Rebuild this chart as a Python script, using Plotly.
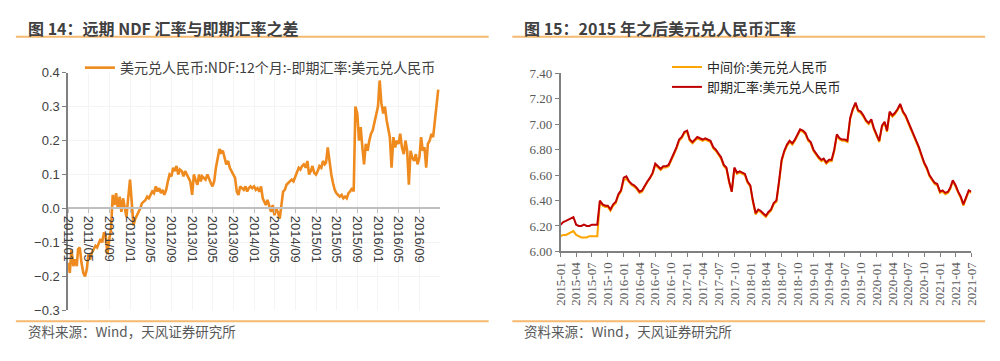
import plotly.graph_objects as go

# ---------------- data: left chart (NDF 12M - spot, USD/CNY) ----------------
ndf_dates = [f"{y}-{m:02d}-{d:02d}" for y in range(2011, 2017) for m in range(1, 13) for d in (1, 11, 21)]
ndf_spread = [
    # 2011
    -0.16, -0.19, -0.12, -0.17, -0.15, -0.17, -0.12, -0.115, -0.16, -0.19, -0.2, -0.18,
    -0.135, -0.15, -0.13, -0.12, -0.11, -0.115, -0.1, -0.09, -0.1, -0.07, -0.08, -0.135,
    -0.09, -0.06, 0.04, 0.01, 0.045, 0.0, 0.035, -0.01, 0.03, 0.0, -0.025, 0.03,
    # 2012
    0.085, 0.02, -0.05, -0.03, -0.02, -0.01, 0.0, 0.015, 0.02, 0.025, 0.035, 0.03,
    0.04, 0.05, 0.045, 0.065, 0.05, 0.06, 0.045, 0.055, 0.04, 0.055, 0.08, 0.1,
    0.095, 0.12, 0.11, 0.125, 0.1, 0.115, 0.11, 0.095, 0.11, 0.1, 0.09, 0.08,
    # 2013
    0.04, 0.1, 0.085, 0.07, 0.1, 0.08, 0.095, 0.09, 0.085, 0.1, 0.085, 0.075,
    0.065, 0.08, 0.12, 0.15, 0.175, 0.165, 0.17, 0.15, 0.13, 0.14, 0.12, 0.11,
    0.1, 0.09, 0.05, 0.04, 0.065, 0.06, 0.055, 0.065, 0.05, 0.06, 0.065, 0.06,
    # 2014
    0.065, 0.055, 0.06, 0.05, 0.065, 0.03, 0.02, 0.01, 0.025, 0.005, -0.01, 0.01,
    -0.02, 0.0, -0.01, -0.03, 0.02, 0.05, 0.055, 0.07, 0.075, 0.08, 0.085, 0.08,
    0.095, 0.11, 0.12, 0.115, 0.125, 0.13, 0.12, 0.14, 0.1, 0.11, 0.125, 0.105,
    # 2015
    0.1, 0.11, 0.125, 0.12, 0.14, 0.13, 0.135, 0.18, 0.14, 0.1, 0.075, 0.055,
    0.045, 0.04, 0.035, 0.04, 0.03, 0.035, 0.03, 0.045, 0.05, 0.06, 0.05, 0.3,
    0.28, 0.2, 0.24, 0.18, 0.13, 0.19, 0.17, 0.2, 0.22, 0.23, 0.25, 0.27,
    # 2016
    0.3, 0.377, 0.31, 0.28, 0.3, 0.26, 0.23, 0.21, 0.12, 0.21, 0.18, 0.2,
    0.19, 0.22, 0.18, 0.16, 0.2, 0.17, 0.07, 0.17, 0.15, 0.14, 0.16, 0.13,
    0.15, 0.21, 0.17, 0.18, 0.12, 0.19, 0.2, 0.22, 0.21, 0.26, 0.3, 0.35,
]

# ---------------- data: right chart (USD/CNY since 2015) ----------------
fx_dates = [f"{y}-{m:02d}-{d:02d}" for y in range(2015, 2022) for m in range(1, 13) for d in (1, 16)
            if (y, m) < (2021, 7)] + ["2021-07-01"]
central_parity = [
    # 2015
    6.12, 6.13, 6.13, 6.14, 6.15, 6.16, 6.13, 6.12, 6.11, 6.11, 6.11, 6.12,
    6.12, 6.12, 6.12, 6.39, 6.36, 6.35, 6.35, 6.32, 6.36, 6.38, 6.44, 6.47,
    # 2016
    6.56, 6.57, 6.54, 6.52, 6.51, 6.49, 6.46, 6.47, 6.51, 6.54, 6.57, 6.61,
    6.68, 6.66, 6.64, 6.66, 6.66, 6.67, 6.71, 6.76, 6.81, 6.87, 6.89, 6.93,
    # 2017
    6.94, 6.87, 6.85, 6.87, 6.89, 6.88, 6.87, 6.88, 6.87, 6.86, 6.81, 6.79,
    6.76, 6.73, 6.67, 6.65, 6.54, 6.47, 6.65, 6.61, 6.62, 6.61, 6.60, 6.54,
    # 2018
    6.51, 6.39, 6.29, 6.32, 6.31, 6.29, 6.27, 6.30, 6.32, 6.37, 6.39, 6.54,
    6.71, 6.78, 6.83, 6.86, 6.84, 6.87, 6.91, 6.95, 6.94, 6.92, 6.87, 6.85,
    # 2019
    6.79, 6.76, 6.73, 6.71, 6.72, 6.69, 6.71, 6.71, 6.79, 6.91, 6.88, 6.87,
    6.87, 6.86, 7.04, 7.11, 7.16, 7.10, 7.09, 7.06, 7.02, 7.00, 7.03, 6.96,
    # 2020
    6.91, 6.86, 6.98, 7.01, 6.94, 7.09, 7.06, 7.08, 7.11, 7.15, 7.09, 7.06,
    7.01, 6.96, 6.92, 6.87, 6.81, 6.75, 6.69, 6.65, 6.59, 6.56, 6.53, 6.52,
    # 2021
    6.46, 6.47, 6.45, 6.46, 6.49, 6.55, 6.51, 6.46, 6.42, 6.36, 6.41, 6.47,
    6.46,
]
spot_rate = [
    # 2015
    6.21, 6.23, 6.24, 6.25, 6.26, 6.27, 6.21, 6.20, 6.20, 6.21, 6.20, 6.20,
    6.21, 6.21, 6.21, 6.40, 6.37, 6.36, 6.36, 6.33, 6.37, 6.39, 6.45, 6.48,
    # 2016
    6.58, 6.59, 6.55, 6.53, 6.52, 6.50, 6.47, 6.48, 6.52, 6.55, 6.58, 6.62,
    6.69, 6.67, 6.65, 6.67, 6.67, 6.68, 6.72, 6.77, 6.82, 6.88, 6.90, 6.94,
    # 2017
    6.95, 6.88, 6.86, 6.88, 6.90, 6.89, 6.88, 6.89, 6.88, 6.87, 6.82, 6.80,
    6.77, 6.74, 6.68, 6.66, 6.55, 6.47, 6.66, 6.62, 6.63, 6.62, 6.61, 6.55,
    # 2018
    6.52, 6.40, 6.30, 6.33, 6.32, 6.30, 6.28, 6.31, 6.33, 6.38, 6.40, 6.55,
    6.72, 6.79, 6.84, 6.87, 6.85, 6.88, 6.92, 6.96, 6.95, 6.93, 6.88, 6.86,
    # 2019
    6.80, 6.77, 6.74, 6.72, 6.73, 6.70, 6.72, 6.72, 6.80, 6.92, 6.89, 6.88,
    6.88, 6.87, 7.05, 7.12, 7.17, 7.11, 7.10, 7.07, 7.03, 7.01, 7.04, 6.97,
    # 2020
    6.92, 6.87, 6.99, 7.02, 6.95, 7.10, 7.07, 7.09, 7.12, 7.16, 7.10, 7.07,
    7.02, 6.97, 6.93, 6.88, 6.82, 6.76, 6.70, 6.66, 6.60, 6.57, 6.54, 6.53,
    # 2021
    6.47, 6.48, 6.46, 6.47, 6.50, 6.56, 6.52, 6.47, 6.43, 6.37, 6.42, 6.48,
    6.47,
]

left_title = "图 14：远期 NDF 汇率与即期汇率之差"
right_title = "图 15：2015 年之后美元兑人民币汇率"
source_text = "资料来源：Wind，天风证券研究所"
ndf_name = "美元兑人民币:NDF:12个月:-即期汇率:美元兑人民币"
cp_name = "中间价:美元兑人民币"
spot_name = "即期汇率:美元兑人民币"

W, H = 1000, 361
def py(px):
    return 1 - px / H

CJK = "Noto Sans CJK SC"

fig = go.Figure()
fig.add_trace(go.Scatter(x=ndf_dates, y=ndf_spread, mode="lines", name=ndf_name,
                         line=dict(color="#EE8A1E", width=2.6), xaxis="x", yaxis="y",
                         legend="legend"))
fig.add_trace(go.Scatter(x=fx_dates, y=central_parity, mode="lines", name=cp_name,
                         line=dict(color="#FFA500", width=2), xaxis="x2", yaxis="y2",
                         legend="legend2"))
fig.add_trace(go.Scatter(x=fx_dates, y=spot_rate, mode="lines", name=spot_name,
                         line=dict(color="#C00000", width=2), xaxis="x2", yaxis="y2",
                         legend="legend2"))

ly0, ly1 = py(316.5), py(68.5)
zero_pos = ly0 + (0.3 / 0.7) * (ly1 - ly0)
left_tick_font = dict(family="Liberation Sans", size=13, color="#404040")
right_tick_font = dict(family="Liberation Serif", size=13, color="#595959")

fig.update_layout(
    width=W, height=H,
    margin=dict(l=0, r=0, t=0, b=0),
    paper_bgcolor="white", plot_bgcolor="white",
    showlegend=True,
    xaxis=dict(domain=[0.061, 0.4385], type="date", range=["2011-01-01", "2016-12-31"],
               anchor="free", position=zero_pos,
               tick0="2011-01-01", dtick="M4", tickformat="%Y/%m", tickangle=90,
               ticks="outside", ticklen=4, tickcolor="#bfbfbf",
               showline=True, linecolor="#bfbfbf", linewidth=1.5,
               showgrid=True, gridcolor="#f4f4f4", zeroline=False,
               tickfont=left_tick_font),
    yaxis=dict(domain=[ly0, ly1], range=[-0.3, 0.4], dtick=0.1, tickformat=".1f",
               anchor="x", ticks="outside", ticklen=4, tickcolor="#808080",
               showline=True, linecolor="#808080", linewidth=1.5,
               showgrid=True, gridcolor="#f4f4f4", zeroline=False,
               tickfont=left_tick_font),
    xaxis2=dict(domain=[0.561, 0.978], type="date", range=["2015-01-01", "2021-07-01"],
                anchor="y2", tick0="2015-01-01", dtick="M3", tickformat="%Y-%m", tickangle=-90,
                ticks="outside", ticklen=4, tickcolor="#808080",
                showline=True, linecolor="#808080", linewidth=1.5,
                showgrid=False, zeroline=False, tickfont=right_tick_font),
    yaxis2=dict(domain=[py(255), py(69.3)], range=[6.0, 7.4], dtick=0.2, tickformat=".2f",
                anchor="x2", ticks="outside", ticklen=4, tickcolor="#808080",
                showline=True, linecolor="#808080", linewidth=1.5,
                showgrid=False, zeroline=False, tickfont=right_tick_font),
    legend=dict(x=0.073, y=py(47), xanchor="left", yanchor="top",
                bgcolor="rgba(0,0,0,0)", font=dict(family=CJK, size=14, color="#404040")),
    legend2=dict(x=0.669, y=py(47), xanchor="left", yanchor="top", tracegroupgap=0,
                 bgcolor="rgba(0,0,0,0)", font=dict(family=CJK, size=13, color="#262626")),
)

sep = "#F5B971"
for x0, x1 in ((0.008, 0.488), (0.512, 0.992)):
    for yy in (31, 328):
        fig.add_shape(type="line", xref="paper", yref="paper", x0=x0, x1=x1, y0=py(yy), y1=py(yy),
                      line=dict(color=sep, width=2))

title_font = dict(family=CJK, size=16, color="#404040", weight="bold")
src_font = dict(family=CJK, size=13.5, color="#595959")
fig.add_annotation(text=left_title, xref="paper", yref="paper", x=0.018, y=py(21.5),
                   xanchor="left", yanchor="middle", showarrow=False, font=title_font)
fig.add_annotation(text=right_title, xref="paper", yref="paper", x=0.522, y=py(21.5),
                   xanchor="left", yanchor="middle", showarrow=False, font=title_font)
fig.add_annotation(text=source_text, xref="paper", yref="paper", x=0.018, y=py(338),
                   xanchor="left", yanchor="middle", showarrow=False, font=src_font)
fig.add_annotation(text=source_text, xref="paper", yref="paper", x=0.522, y=py(338),
                   xanchor="left", yanchor="middle", showarrow=False, font=src_font)

fig.write_html("out.html", config={"displayModeBar": False},
               post_script="document.body.style.margin='0';")
